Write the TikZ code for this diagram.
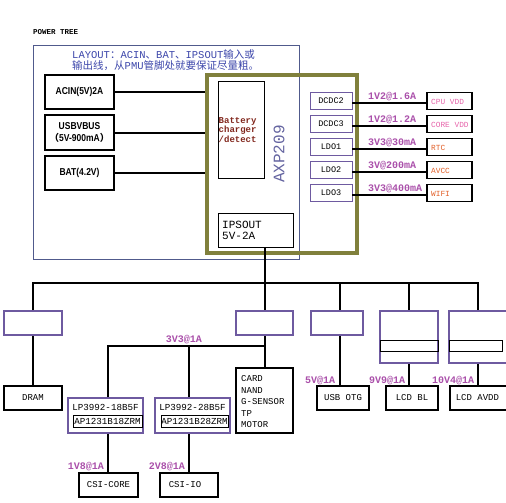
\documentclass[tikz,border=0pt]{standalone}
\usepackage{fontspec}
\setmainfont{Liberation Serif}
\setmonofont{Liberation Mono}
\newfontfamily\cjk{Noto Sans CJK SC}
\newfontfamily\arialn[FakeStretch=0.85]{Liberation Sans}
\usetikzlibrary{calc}
\definecolor{olivebox}{RGB}{128,128,60}
\definecolor{purp}{RGB}{110,90,160}
\definecolor{lbl}{RGB}{170,80,170}
\definecolor{pinkt}{RGB}{230,100,170}
\definecolor{orgt}{RGB}{225,95,40}
\definecolor{brn}{RGB}{130,40,30}
\definecolor{axpc}{RGB}{100,100,160}
\definecolor{framec}{RGB}{80,90,140}
\definecolor{layoutc}{RGB}{60,70,170}
\begin{document}
\begin{tikzpicture}[x=1pt,y=-1pt,
  every node/.style={inner sep=0pt},
  blackbox/.style={draw, line width=1.8pt, font=\ttfamily\fontsize{9}{11}\selectfont},
  srcbox/.style={draw, line width=1.8pt, font=\arialn\bfseries\fontsize{10}{12}\selectfont, align=center},
  pbox/.style={draw=purp, line width=2pt},
  thinbox/.style={draw, line width=0.8pt},
  dbox/.style={draw=purp, line width=0.9pt, font=\ttfamily\fontsize{8.5}{10}\selectfont},
  obox/.style={draw, line width=1.3pt},
  otext/.style={anchor=west, font=\ttfamily\fontsize{7.8}{10}\selectfont},
  wire/.style={line width=2pt},
  vlabel/.style={text=lbl, font=\ttfamily\bfseries\fontsize{10}{12}\selectfont}
]
\useasboundingbox (0,0) rectangle (506,503);
\clip (0,0) rectangle (506,503);

% title and frame
\node[anchor=west, font=\ttfamily\bfseries\fontsize{7.5}{9}\selectfont] (title) at (33,32) {POWER TREE};
\node[draw=framec, line width=0.8pt, minimum width=266pt, minimum height=214pt] (frame) at (166,152) {};
\node[anchor=west, align=left, text=layoutc, font=\ttfamily\fontsize{10.5}{9.5}\selectfont] (layout) at (72,60)
  {LAYOUT{\cjk ：}ACIN{\cjk 、}BAT{\cjk 、}IPSOUT{\cjk 输入或}\\{\cjk 输出线，从}PMU{\cjk 管脚处就要保证尽量粗。}};

% sources
\node[srcbox, minimum width=69pt, minimum height=34pt] (acin) at (79.5,92) {ACIN(5V)2A};
\node[srcbox, minimum width=69pt, minimum height=35pt] (usb) at (79.5,132.5) {USBVBUS\\{\cjk\fontsize{9.5}{12}\selectfont （}5V-900mA{\cjk\fontsize{9.5}{12}\selectfont ）}};
\node[srcbox, minimum width=69pt, minimum height=34pt] (bat) at (79.5,173) {BAT(4.2V)};

% AXP209
\node[draw=olivebox, line width=4pt, minimum width=150pt, minimum height=178pt] (axp) at (282,164) {};
\node[draw, line width=0.8pt, minimum width=46pt, minimum height=97pt] (chg) at (241,129.5) {};
\node[anchor=west, align=left, text=brn, font=\ttfamily\bfseries\fontsize{9}{9.3}\selectfont] (chgt) at (218.5,130) {Battery\\charger\\/detect};
\node[rotate=90, text=axpc, font=\ttfamily\fontsize{16}{16}\selectfont] (axpt) at (279,154) {AXP209};
\node[draw, line width=0.8pt, minimum width=75pt, minimum height=34pt] (ips) at (255.5,230) {};
\node[anchor=west, align=left, font=\ttfamily\fontsize{11}{11.5}\selectfont] (ipst) at (222,230.5) {IPSOUT\\5V-2A};

\draw[wire] (acin.east) -- (acin.east -| axp.west);
\draw[wire] (usb.east) -- (usb.east -| axp.west);
\draw[wire] (bat.east) -- (bat.east -| axp.west);

% regulators
\foreach \n/\t/\y/\v/\o/\c in {dc2/DCDC2/100.5/1V2@1.6A/CPU VDD/pinkt,
                              dc3/DCDC3/123.5/1V2@1.2A/CORE VDD/pinkt,
                              ld1/LDO1/146.5/3V3@30mA/RTC/orgt,
                              ld2/LDO2/169.5/3V@200mA/AVCC/orgt,
                              ld3/LDO3/192.5/3V3@400mA/WIFI/orgt}{
  \node[dbox, minimum width=42pt, minimum height=17pt] (\n) at (331,\y) {\t};
  \node[obox, minimum width=45pt, minimum height=17pt] (\n o) at (449.5,\y+0.5) {};
  \node[otext, text=\c] (\n ot) at (431,\y+1.5) {\o};
  \draw[wire] ([yshift=-2.5pt]\n.east) -- ([yshift=-2.5pt]\n.east -| \n o.west);
  \node[vlabel, anchor=west] (\n l) at (368,\y-4) {\v};
}

% main bus
\coordinate (j) at (265,283);
\coordinate (j3) at (340,283);
\coordinate (b3) at (265,346);

\node[pbox, minimum width=58pt, minimum height=24pt] (p1) at (33,323) {};
\node[pbox, minimum width=57pt, minimum height=24pt] (p2) at (264.5,323) {};
\node[pbox, minimum width=52pt, minimum height=24pt] (p3) at (337,323) {};
\node[pbox, minimum width=58pt, minimum height=52pt] (p4) at (409,337) {};
\node[thinbox, minimum width=58pt, minimum height=11pt] (i4) at (409,345.5) {};
\node[pbox, minimum width=58pt, minimum height=52pt] (p5) at (478,337) {};
\node[thinbox, minimum width=53pt, minimum height=11pt] (i5) at (475.5,345.5) {};

\draw[wire] (ips.south -| j) -- (j);
\draw[wire] (p1.north) -- (p1.north |- j) -- (p5.north |- j) -- (p5.north);
\draw[wire] (j) -- (j |- p2.north);
\draw[wire] (j3) -- (j3 |- p3.north);
\draw[wire] (p4.north |- j) -- (p4.north);

% loads
\node[blackbox, minimum width=58pt, minimum height=24pt] (dram) at (33,398) {DRAM};
\node[blackbox, minimum width=57pt, minimum height=65pt] (card) at (264.5,400.5) {};
\node[anchor=west, align=left, font=\ttfamily\fontsize{9}{11.5}\selectfont] (cardt) at (241,402) {CARD\\NAND\\G-SENSOR\\TP\\MOTOR};
\node[blackbox, minimum width=52pt, minimum height=24pt] (otg) at (343,398) {USB OTG};
\node[blackbox, minimum width=52pt, minimum height=24pt] (lbl) at (412,398) {LCD BL};
\node[blackbox, minimum width=58pt, minimum height=24pt, anchor=west] (avdd) at (449,398) {\hspace*{-3pt}LCD AVDD};

\draw[wire] (p1.south) -- (dram.north);
\draw[wire] (j |- p2.south) -- (j |- card.north);
\draw[wire] (j3 |- p3.south) -- (j3 |- otg.north);
\draw[wire] (p4.south) -- (p4.south |- lbl.north);
\draw[wire] (p5.south) -- (p5.south |- avdd.north);

\node[vlabel] (l5) at (320,380.5) {5V@1A};
\node[vlabel] (l99) at (387,380.5) {9V9@1A};
\node[vlabel] (l104) at (453,380.5) {10V4@1A};

% 3V3 branch
\node[pbox, minimum width=75pt, minimum height=35pt] (lp1) at (105.5,415.5) {};
\node[font=\ttfamily\fontsize{9.2}{11}\selectfont] (lp1t) at (105.5,407.5) {LP3992-18B5F};
\node[thinbox, minimum width=69pt, minimum height=12pt, font=\ttfamily\fontsize{9.2}{11}\selectfont] (ap1) at (107.5,421) {AP1231B18ZRM};
\node[pbox, minimum width=75pt, minimum height=35pt] (lp2) at (192.5,415.5) {};
\node[font=\ttfamily\fontsize{9.2}{11}\selectfont] (lp2t) at (192.5,407.5) {LP3992-28B5F};
\node[thinbox, minimum width=67pt, minimum height=12pt, font=\ttfamily\fontsize{9.2}{11}\selectfont] (ap2) at (194.5,421) {AP1231B28ZRM};

\coordinate (b1) at (108,346);
\coordinate (b2) at (189,346);
\draw[wire] (b1 |- lp1.north) -- (b1) -- (b3);
\draw[wire] (b2) -- (b2 |- lp2.north);
\node[vlabel] (l33) at (184,340) {3V3@1A};

\node[blackbox, minimum width=59pt, minimum height=24pt] (csic) at (108.5,485) {CSI-CORE};
\node[blackbox, minimum width=58pt, minimum height=24pt] (csii) at (189,485) {\hspace*{-8pt}CSI-IO};
\draw[wire] (b1 |- lp1.south) -- (b1 |- csic.north);
\draw[wire] (b2 |- lp2.south) -- (b2 |- csii.north);
\node[vlabel] (l18) at (86,467) {1V8@1A};
\node[vlabel] (l28) at (167,467) {2V8@1A};
\end{tikzpicture}
\end{document}
